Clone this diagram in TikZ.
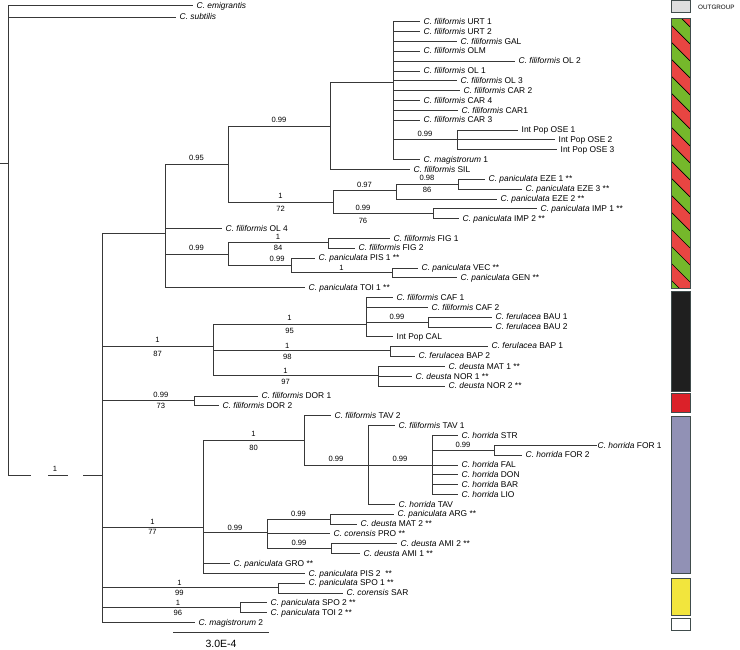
\documentclass[tikz,border=0pt]{standalone}
\usepackage{fontspec}
\setmainfont{Liberation Sans}
\usepackage{tikz}
\usetikzlibrary{positioning,calc}
\definecolor{treeline}{gray}{0.22}
\definecolor{outgrey}{rgb}{0.87,0.87,0.87}
\definecolor{hatchred}{rgb}{0.91,0.27,0.26}
\definecolor{hatchgreen}{rgb}{0.46,0.72,0.17}
\definecolor{barblack}{rgb}{0.12,0.12,0.12}
\definecolor{barred}{rgb}{0.86,0.13,0.16}
\definecolor{barlav}{rgb}{0.57,0.57,0.71}
\definecolor{baryellow}{rgb}{0.95,0.90,0.24}
\definecolor{barframe}{rgb}{0.25,0.30,0.30}
\newcommand{\leaffont}{\fontsize{8.4}{10}\selectfont}
\newcommand{\supfont}{\fontsize{7.6}{9}\selectfont}
\newcommand{\cfil}{\textit{C. filiformis}}
\newcommand{\cpan}{\textit{C. paniculata}}
\newcommand{\cfer}{\textit{C. ferulacea}}
\newcommand{\cdeu}{\textit{C. deusta}}
\newcommand{\chor}{\textit{C. horrida}}
\newcommand{\ccor}{\textit{C. corensis}}
\newcommand{\cmag}{\textit{C. magistrorum}}

\begin{document}
\begin{tikzpicture}[
  x=1pt, y=-1pt,
  br/.style={draw=treeline, line width=0.9pt},
  leaf/.style={anchor=west, inner xsep=3.5pt, inner ysep=0pt,
    text height=6pt, text depth=0.6pt, font=\leaffont},
  sup/.style={font=\supfont, inner sep=2pt, pos=.75},
  bar/.style={draw=barframe, line width=0.6pt}
]
\useasboundingbox (0,0) rectangle (740,650);

% internal nodes
\coordinate (base) at (0,163);
\coordinate (root) at (8,163);
\coordinate (ing) at (102,475);
\coordinate (cA) at (165,233);
\coordinate (c095) at (228,164);
\coordinate (c099a) at (330,126);
\coordinate (poly) at (393,82);
\coordinate (cOSE) at (457,139.9);
\coordinate (c172) at (333,202);
\coordinate (c097) at (396,190.7);
\coordinate (c098) at (458,184.2);
\coordinate (c099b) at (433,213.8);
\coordinate (cFP) at (228,254);
\coordinate (cFIG) at (328,242.3);
\coordinate (cPIS) at (291,265);
\coordinate (cVEC) at (392,272.7);
\coordinate (cB) at (213,346.7);
\coordinate (cCAF) at (366,324.3);
\coordinate (cBAU) at (428,322);
\coordinate (cBAP) at (390,350.7);
\coordinate (cDEU) at (378,375.5);
\coordinate (cDOR) at (194,400);
\coordinate (cH) at (203,527.3);
\coordinate (c180) at (304,440);
\coordinate (c099c) at (368,465);
\coordinate (c099d) at (432,465.5);
\coordinate (cFOR) at (494,450);
\coordinate (c099h) at (267,532.7);
\coordinate (cARG) at (330,519);
\coordinate (cAMI) at (331,548.5);
\coordinate (cS1) at (278,587.8);
\coordinate (cS2) at (240,607.8);

% leaves
\node[leaf] (emig) at (193,5.7) {\textit{C. emigrantis}};
\node[leaf] (subt) at (176,17.3) {\textit{C. subtilis}};
\node[leaf] (urt1) at (420,21.7) {\cfil{} URT 1};
\node[leaf] (urt2) at (420,31.6) {\cfil{} URT 2};
\node[leaf] (gal) at (457,41.4) {\cfil{} GAL};
\node[leaf] (olm) at (420,51.3) {\cfil{} OLM};
\node[leaf] (ol2) at (515,61.1) {\cfil{} OL 2};
\node[leaf] (ol1) at (420,71) {\cfil{} OL 1};
\node[leaf] (ol3) at (457,80.8) {\cfil{} OL 3};
\node[leaf] (car2) at (460,90.7) {\cfil{} CAR 2};
\node[leaf] (car4) at (420,100.5) {\cfil{} CAR 4};
\node[leaf] (car1) at (458,110.4) {\cfil{} CAR1};
\node[leaf] (car3) at (420,120.2) {\cfil{} CAR 3};
\node[leaf] (ose1) at (518,130) {Int Pop OSE 1};
\node[leaf] (ose2) at (555,139.9) {Int Pop OSE 2};
\node[leaf] (ose3) at (557,149.8) {Int Pop OSE 3};
\node[leaf] (mag1) at (420,159.6) {\cmag{} 1};
\node[leaf] (sil) at (410,169.5) {\cfil{} SIL};
\node[leaf] (eze1) at (485,179.3) {\cpan{} EZE 1 **};
\node[leaf] (eze3) at (522,189.2) {\cpan{} EZE 3 **};
\node[leaf] (eze2) at (497,199) {\cpan{} EZE 2 **};
\node[leaf] (imp1) at (537,208.9) {\cpan{} IMP 1 **};
\node[leaf] (imp2) at (459,218.7) {\cpan{} IMP 2 **};
\node[leaf] (ol4) at (222,228.6) {\cfil{} OL 4};
\node[leaf] (fig1) at (390,238.4) {\cfil{} FIG 1};
\node[leaf] (fig2) at (355,248.3) {\cfil{} FIG 2};
\node[leaf] (pis1) at (315,258.1) {\cpan{} PIS 1 **};
\node[leaf] (vec) at (418,268) {\cpan{} VEC **};
\node[leaf] (gen) at (457,277.8) {\cpan{} GEN **};
\node[leaf] (toi1) at (305,287.7) {\cpan{} TOI 1 **};
\node[leaf] (caf1) at (393,297.5) {\cfil{} CAF 1};
\node[leaf] (caf2) at (428,307.4) {\cfil{} CAF 2};
\node[leaf] (bau1) at (492,317.2) {\cfer{} BAU 1};
\node[leaf] (bau2) at (492,327.1) {\cfer{} BAU 2};
\node[leaf] (cal) at (393,336.9) {Int Pop CAL};
\node[leaf] (bap1) at (488,346) {\cfer{} BAP 1};
\node[leaf] (bap2) at (415,356.3) {\cfer{} BAP 2};
\node[leaf] (mat1) at (445,366.5) {\cdeu{} MAT 1 **};
\node[leaf] (nor1) at (412,376.3) {\cdeu{} NOR 1 **};
\node[leaf] (nor2) at (445,386.2) {\cdeu{} NOR 2 **};
\node[leaf] (dor1) at (258,396) {\cfil{} DOR 1};
\node[leaf] (dor2) at (219,405.9) {\cfil{} DOR 2};
\node[leaf] (tav2) at (331,415.7) {\cfil{} TAV 2};
\node[leaf] (tav1) at (395,425.6) {\cfil{} TAV 1};
\node[leaf] (str) at (458,435.4) {\chor{} STR};
\node[leaf, inner xsep=0.5pt] (for1) at (597,445.3) {\chor{} FOR 1};
\node[leaf] (for2) at (522,455.1) {\chor{} FOR 2};
\node[leaf] (fal) at (458,465) {\chor{} FAL};
\node[leaf] (don) at (458,474.8) {\chor{} DON};
\node[leaf] (bar) at (458,484.7) {\chor{} BAR};
\node[leaf] (lio) at (458,494.5) {\chor{} LIO};
\node[leaf] (htav) at (395,504.4) {\chor{} TAV};
\node[leaf] (arg) at (394,514.2) {\cpan{} ARG **};
\node[leaf] (mat2) at (357,524.1) {\cdeu{} MAT 2 **};
\node[leaf] (pro) at (330,533.9) {\ccor{} PRO **};
\node[leaf] (ami2) at (397,543.8) {\cdeu{} AMI 2 **};
\node[leaf] (ami1) at (360,553.6) {\cdeu{} AMI 1 **};
\node[leaf] (gro) at (230,563.5) {\cpan{} GRO **};
\node[leaf] (pis2) at (305,573.3) {\cpan{} PIS 2 ~**};
\node[leaf] (spo1) at (305,583.2) {\cpan{} SPO 1 **};
\node[leaf] (sar) at (343,593) {\ccor{} SAR};
\node[leaf] (spo2) at (267,602.9) {\cpan{} SPO 2 **};
\node[leaf] (toi2) at (267,612.7) {\cpan{} TOI 2 **};
\node[leaf] (mag2) at (195,622.6) {\cmag{} 2};

% branches
\draw[br] (base) -- (root);
\draw[br] (root) |- (emig.west);
\draw[br] (root) |- (subt.west);
\draw[br] (root) -- (root |- ing);
\draw[br, dash pattern=on 23pt off 17pt on 20pt off 15pt on 20pt]
  (root |- ing) -- node[sup, above=1pt, pos=.5] {1} (ing);

\draw[br] (ing) |- (cA);
\draw[br] (cA) |- node[sup, above=1pt] {0.95} (c095);
\draw[br] (c095) |- node[sup, above=1pt] {0.99} (c099a);
\draw[br] (c095) |- node[sup, above=1pt] {1} node[sup, below=2pt] {72} (c172);
\draw[br] (c099a) |- (poly);
\draw[br] (c099a) |- (sil.west);
\foreach \c in {urt1,urt2,gal,olm,ol2,ol1,ol3,car2,car4,car1,car3,mag1}
  \draw[br] (poly) |- (\c.west);
\draw[br] (poly) |- node[sup, above=1pt] {0.99} (cOSE);
\foreach \c in {ose1,ose2,ose3}
  \draw[br] (cOSE) |- (\c.west);
\draw[br] (c172) |- node[sup, above=1pt] {0.97} (c097);
\draw[br] (c172) |- node[sup, above=1pt, pos=.65] {0.99} node[sup, below=2pt, pos=.65] {76} (c099b);
\draw[br] (c097) |- node[sup, above=1pt] {0.98} node[sup, below=1pt] {86} (c098);
\draw[br] (c097) |- (eze2.west);
\draw[br] (c098) |- (eze1.west);
\draw[br] (c098) |- (eze3.west);
\draw[br] (c099b) |- (imp1.west);
\draw[br] (c099b) |- (imp2.west);
\draw[br] (cA) |- (ol4.west);
\draw[br] (cA) |- node[sup, above=1pt] {0.99} (cFP);
\draw[br] (cA) |- (toi1.west);
\draw[br] (cFP) |- node[sup, above=0pt] {1} node[sup, below=0pt] {84} (cFIG);
\draw[br] (cFP) |- node[sup, above=1pt, pos=.89] {0.99} (cPIS);
\draw[br] (cFIG) |- (fig1.west);
\draw[br] (cFIG) |- (fig2.west);
\draw[br] (cPIS) |- (pis1.west);
\draw[br] (cPIS) |- node[sup, above=0pt] {1} (cVEC);
\draw[br] (cVEC) |- (vec.west);
\draw[br] (cVEC) |- (gen.west);

\draw[br] (ing) |- node[sup, above=2pt] {1} node[sup, below=2pt] {87} (cB);
\draw[br] (cB) |- node[sup, above=1pt] {1} node[sup, below=1pt] {95} (cCAF);
\draw[br] (cB) |- node[sup, above=0pt, pos=.71] {1} node[sup, below=1pt, pos=.71] {98} (cBAP);
\draw[br] (cB) |- node[sup, above=0pt, pos=.72] {1} node[sup, below=1pt, pos=.72] {97} (cDEU);
\draw[br] (cCAF) |- (caf1.west);
\draw[br] (cCAF) |- (caf2.west);
\draw[br] (cCAF) |- node[sup, above=0pt] {0.99} (cBAU);
\draw[br] (cCAF) |- (cal.west);
\draw[br] (cBAU) |- (bau1.west);
\draw[br] (cBAU) |- (bau2.west);
\draw[br] (cBAP) |- (bap1.west);
\draw[br] (cBAP) |- (bap2.west);
\draw[br] (cDEU) |- (mat1.west);
\draw[br] (cDEU) |- (nor1.west);
\draw[br] (cDEU) |- (nor2.west);

\draw[br] (ing) |- node[sup, above=0pt, pos=.82] {0.99} node[sup, below=1pt, pos=.82] {73} (cDOR);
\draw[br] (cDOR) |- (dor1.west);
\draw[br] (cDOR) |- (dor2.west);

\draw[br] (ing) |- node[sup, above=0pt] {1} node[sup, below=0pt] {77} (cH);
\draw[br] (cH) |- node[sup, above=1pt] {1} node[sup, below=3pt] {80} (c180);
\draw[br] (c180) |- (tav2.west);
\draw[br] (c180) |- node[sup, above=1pt] {0.99} (c099c);
\draw[br] (c099c) |- (tav1.west);
\draw[br] (c099c) |- node[sup, above=1pt] {0.99} (c099d);
\draw[br] (c099c) |- (htav.west);
\draw[br] (c099d) |- (str.west);
\draw[br] (c099d) |- node[sup, above=0pt] {0.99} (cFOR);
\foreach \c in {fal,don,bar,lio}
  \draw[br] (c099d) |- (\c.west);
\draw[br] (cFOR) |- (for1.west);
\draw[br] (cFOR) |- (for2.west);
\draw[br] (cH) |- node[sup, above=0pt] {0.99} (c099h);
\draw[br] (c099h) |- node[sup, above=0pt] {0.99} (cARG);
\draw[br] (c099h) |- (pro.west);
\draw[br] (c099h) |- node[sup, above=0pt] {0.99} (cAMI);
\draw[br] (cARG) |- (arg.west);
\draw[br] (cARG) |- (mat2.west);
\draw[br] (cAMI) |- (ami2.west);
\draw[br] (cAMI) |- (ami1.west);
\draw[br] (cH) |- (gro.west);
\draw[br] (cH) |- (pis2.west);

\draw[br] (ing) |- node[sup, above=0pt, pos=.72] {1} node[sup, below=0pt, pos=.72] {99} (cS1);
\draw[br] (cS1) |- (spo1.west);
\draw[br] (cS1) |- (sar.west);
\draw[br] (ing) |- node[sup, above=0pt, pos=.775] {1} node[sup, below=0pt, pos=.775] {96} (cS2);
\draw[br] (cS2) |- (spo2.west);
\draw[br] (cS2) |- (toi2.west);
\draw[br] (ing) |- (mag2.west);

% scale bar
\coordinate (sb1) at (173,632.7);
\coordinate (sb2) at (269,632.7);
\draw[br] (sb1) -- node[below=4pt, font=\fontsize{10.5}{12}\selectfont] {3.0E-4} (sb2);

% group bars
\fill[outgrey, bar] (671,0.7) rectangle (690,12.7);
\node[anchor=west, inner sep=0pt, font=\fontsize{6.3}{7}\selectfont] (outlbl) at (698,7.3) {OUTGROUP};
\begin{scope}
  \clip (671,18.3) rectangle (690,288.3);
  \fill[hatchred] (671,18.3) rectangle (690,288.3);
  \foreach \k in {-1,...,8} {
    \fill[hatchgreen] (671,{8+34*\k}) -- (690,{27+34*\k}) -- (690,{44+34*\k}) -- (671,{25+34*\k}) -- cycle;
    \draw[black, line width=0.7pt] (671,{8+34*\k}) -- (690,{27+34*\k});
    \draw[black, line width=0.7pt] (671,{25+34*\k}) -- (690,{44+34*\k});
  }
\end{scope}
\draw[bar] (671,18.3) rectangle (690,288.3);
\fill[barblack, bar] (671,291.7) rectangle (690,391);
\fill[barred, bar] (671,393.3) rectangle (690,412.7);
\fill[barlav, bar] (671,416.7) rectangle (690,573.3);
\fill[baryellow, bar] (671,578.3) rectangle (690,615);
\fill[white, bar] (671,618.3) rectangle (690,630);
\end{tikzpicture}
\end{document}
